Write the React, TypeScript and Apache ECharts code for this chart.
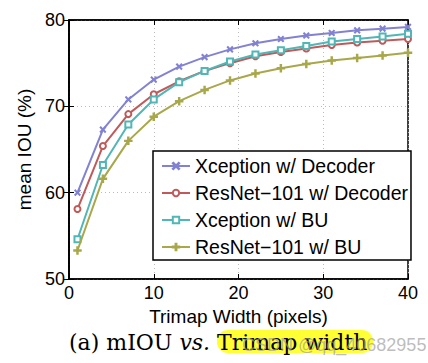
import React, { useEffect, useRef } from "react";
import * as echarts from "echarts";

const trimapWidth = [1, 4, 7, 10, 13, 16, 19, 22, 25, 28, 31, 34, 37, 40];
const xceptionDecoder = [60.0, 67.3, 70.8, 73.1, 74.6, 75.7, 76.6, 77.3, 77.8, 78.2, 78.5, 78.8, 79.0, 79.2];
const resnetDecoder = [58.1, 65.4, 69.1, 71.4, 72.9, 74.1, 75.0, 75.8, 76.3, 76.7, 77.1, 77.4, 77.6, 77.8];
const xceptionBU = [54.6, 63.2, 67.9, 70.8, 72.8, 74.1, 75.2, 76.0, 76.5, 77.0, 77.5, 77.8, 78.1, 78.4];
const resnetBU = [53.3, 61.6, 66.0, 68.8, 70.6, 71.9, 73.0, 73.8, 74.4, 74.9, 75.3, 75.6, 75.9, 76.2];
const seriesNames = [
  "Xception w/ Decoder",
  "ResNet\u2212101 w/ Decoder",
  "Xception w/ BU",
  "ResNet\u2212101 w/ BU",
];
const seriesColors = ["#8282d2", "#c05a5a", "#50b6b6", "#a8a84a"];

const xSym = "path://M0.8,0 L5,4.2 L9.2,0 L10,0.8 L5.8,5 L10,9.2 L9.2,10 L5,5.8 L0.8,10 L0,9.2 L4.2,5 L0,0.8 Z";
const plusSym = "path://M4.3,0 H5.7 V4.3 H10 V5.7 H5.7 V10 H4.3 V5.7 H0 V4.3 H4.3 Z";

export default function App() {
  const ref = useRef<HTMLDivElement>(null);
  useEffect(() => {
    if (!ref.current) return;
    const chart = echarts.init(ref.current, null, { renderer: "svg" });
    const allData = [xceptionDecoder, resnetDecoder, xceptionBU, resnetBU];
    const symbols = [xSym, "emptyCircle", "emptyRect", plusSym];
    const symSizes = [5, 6, 6, 7];
    const font = "'Liberation Sans', Arial, sans-serif";
    const axisCommon = {
      type: "value" as const,
      axisLine: { show: true, lineStyle: { color: "#000", width: 1.5 } },
      axisTick: { show: true, inside: true, length: 5, lineStyle: { color: "#000" } },
      axisLabel: { color: "#000", fontSize: 18, fontFamily: font },
    };
    chart.setOption({
      animation: false,
      backgroundColor: "#fff",
      grid: {
        left: 69,
        top: 20,
        width: 339,
        height: 259,
        show: true,
        borderColor: "#000",
        borderWidth: 1.5,
        backgroundColor: "transparent",
      },
      xAxis: [
        {
          ...axisCommon,
          min: 0,
          max: 40,
          interval: 10,
          name: "Trimap Width (pixels)",
          nameLocation: "middle",
          nameGap: 19,
          nameTextStyle: { color: "#000", fontSize: 19, fontFamily: font },
          axisLabel: { ...axisCommon.axisLabel, margin: 5 },
          splitLine: { show: true, lineStyle: { color: "#bbb", type: [1, 3], width: 1 } },
        },
        {
          ...axisCommon,
          position: "top",
          min: 0,
          max: 40,
          interval: 10,
          axisLabel: { show: false },
          splitLine: { show: false },
        },
      ],
      yAxis: [
        {
          ...axisCommon,
          min: 50,
          max: 80,
          interval: 10,
          name: "mean IOU (%)",
          nameLocation: "middle",
          nameGap: 33,
          nameRotate: 90,
          nameTextStyle: { color: "#000", fontSize: 19, fontFamily: font },
          axisLabel: { ...axisCommon.axisLabel, margin: 4 },
          splitLine: { show: true, lineStyle: { color: "#bbb", type: [1, 3], width: 1 } },
        },
        {
          ...axisCommon,
          position: "right",
          min: 50,
          max: 80,
          interval: 10,
          axisLabel: { show: false },
          splitLine: { show: false },
        },
      ],
      legend: {
        orient: "vertical",
        left: 153,
        top: 151,
        data: seriesNames,
        backgroundColor: "#fff",
        borderColor: "#000",
        borderWidth: 1.5,
        borderRadius: 0,
        padding: [5, 3, 3, 8],
        itemWidth: 28,
        itemHeight: 8,
        itemGap: 7,
        textStyle: { color: "#000", fontSize: 19.5, fontFamily: font },
      },
      series: seriesNames.map((name, i) => ({
        name,
        type: "line",
        data: trimapWidth.map((x, j) => [x, allData[i][j]]),
        symbol: symbols[i],
        symbolSize: symSizes[i],
        showAllSymbol: true,
        lineStyle: { width: 2, color: seriesColors[i], type: "solid" },
        itemStyle: { color: seriesColors[i], borderColor: seriesColors[i], borderWidth: 1.5 },
        z: 3 + i,
      })),
      graphic: [
        {
          type: "rect",
          shape: { x: 217, y: 330, width: 156, height: 23, r: 11 },
          style: { fill: "#ffff33" },
          z: 0,
        },
        {
          type: "text",
          x: 69,
          y: 342,
          style: {
            text: "(a) mIOU {i|vs.} Trimap width",
            rich: {
              i: { fontStyle: "italic", fontFamily: "'DejaVu Serif', serif", fontSize: 22, fill: "#000" },
            },
            fontFamily: "'DejaVu Serif', serif",
            fontSize: 22,
            fill: "#000",
            verticalAlign: "middle",
          },
          z: 1,
        },
        {
          type: "text",
          x: 242,
          y: 345,
          style: {
            text: "CSDN @qq_40682955",
            fontFamily: font,
            fontSize: 18,
            fill: "rgba(160,160,160,0.7)",
            verticalAlign: "middle",
          },
          z: 2,
        },
      ],
    });
    return () => chart.dispose();
  }, []);
  return (
    <div
      ref={ref}
      style={{ position: "fixed", left: 0, top: 0, width: 428, height: 363 }}
    />
  );
}
